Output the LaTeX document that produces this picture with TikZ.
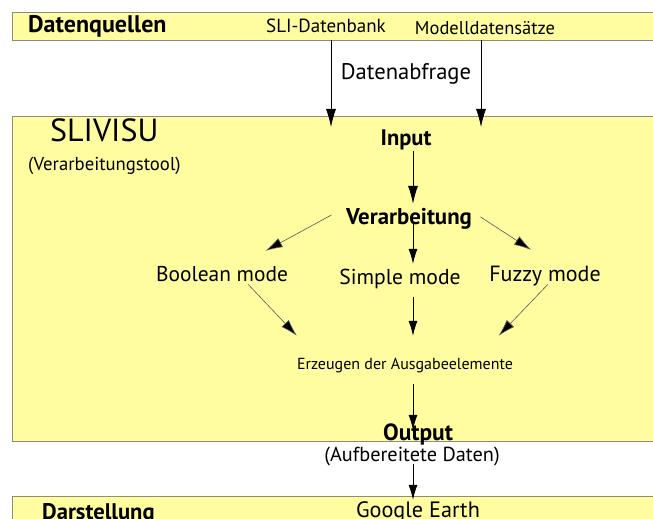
\documentclass[tikz,border=0pt]{standalone}
\usepackage{fontspec}
\setmainfont{PT Sans}
\usetikzlibrary{arrows.meta}
\definecolor{hellgelb}{RGB}{255,253,160}
\definecolor{rahmen}{RGB}{140,140,120}
\tikzset{
  feld/.style={draw=rahmen,fill=hellgelb,line width=0.8pt},
  txt/.style={inner sep=0pt,text height=0.75em,text depth=0.25em,font=\fontsize{#1}{#1}\selectfont},
  btxt/.style={inner sep=0pt,text height=0.75em,text depth=0.25em,font=\bfseries\fontsize{#1}{#1}\selectfont},
  pfeil/.style={line width=0.8pt,black,-{Latex[length=18pt,width=10pt]}},
  kpfeil/.style={line width=0.8pt,black,-{Latex[length=15pt,width=9pt]}},
  schraeg/.style={line width=0.6pt,black!65,-{Latex[length=17pt,width=10pt,fill=black]}}
}
\begin{document}
\begin{tikzpicture}[x=1pt,y=1pt]
    \useasboundingbox (0,0) rectangle (653,519);
    \clip (0,0) rectangle (653,519);
    % Felder
    \fill[white] (0,0) rectangle (653,519);
    \draw[feld] (12,479) rectangle (670,507);
    \draw[feld] (12,78) rectangle (670,403);
    \draw[feld] (12,-11) rectangle (670,23);
    % Datenquellen
    \node[btxt=24,anchor=west] (quellen) at (28,489) {Datenquellen};
    \node[txt=19] (sli) at (326,489) {SLI-Datenbank};
    \node[txt=18.5] (modell) at (485,487) {Modelldatensätze};
    \node[txt=22.6] (abfrage) at (406,442) {Datenabfrage};
    % SLIVISU
    \node[txt=32,anchor=west] (slivisu) at (50,380) {SLIVISU};
    \node[txt=18.7,anchor=west] (tool) at (28,351) {(Verarbeitungstool)};
    \node[btxt=22.5] (input) at (406,376) {Input};
    \node[btxt=22.8] (verarb) at (409,297) {Verarbeitung};
    \node[txt=21.4] (bool) at (222,240) {Boolean mode};
    \node[txt=21.6] (simple) at (400,237) {Simple mode};
    \node[txt=22] (fuzzy) at (545,240) {Fuzzy mode};
    \node[txt=16] (erz) at (405,152) {Erzeugen der Ausgabeelemente};
    \node[btxt=23.4] (output) at (418,81) {Output};
    \node[txt=20.3] (aufb) at (412,60) {(Aufbereitete Daten)};
    % Darstellung
    \node[btxt=22.6,anchor=west] (darst) at (42,2) {Darstellung};
    \node[txt=22.2] (google) at (418,4) {Google Earth};
    % Pfeile
    \coordinate (achse) at (413,0);
    \coordinate (ein1) at (331,392);
    \coordinate (ein2) at (481,392);
    \draw[pfeil] (ein1 |- 0,479) -- (ein1);
    \draw[pfeil] (ein2 |- 0,479) -- (ein2);
    \draw[pfeil,shorten <=3pt,shorten >=13pt] (input.south -| achse) -- (verarb.north -| achse);
    \draw[kpfeil,shorten <=-3pt,shorten >=13pt] (verarb.south -| achse) -- (simple.north -| achse);
    \draw[schraeg] ([shift={(-14.5pt,7pt)}]verarb.west) -- ([shift={(-22.5pt,23pt)}]bool.north east);
    \draw[schraeg] ([shift={(8.5pt,5pt)}]verarb.east) -- ([shift={(-14pt,24pt)}]fuzzy.north);
    \draw[schraeg] ([shift={(26pt,0pt)}]bool.south) -- ([shift={(0pt,26pt)}]erz.north west);
    \draw[schraeg] ([shift={(3pt,0pt)}]fuzzy.south) -- ([shift={(-14.5pt,26pt)}]erz.north east);
    \draw[kpfeil,shorten <=10pt,shorten >=26pt] (simple.south -| achse) -- (erz.north -| achse);
    \draw[kpfeil,shorten <=12pt,shorten >=3pt] (erz.south -| achse) -- (output.north -| achse);
    \draw[kpfeil,shorten >=10pt] (aufb.south -| achse) -- (google.north -| achse);
\end{tikzpicture}
\end{document}
